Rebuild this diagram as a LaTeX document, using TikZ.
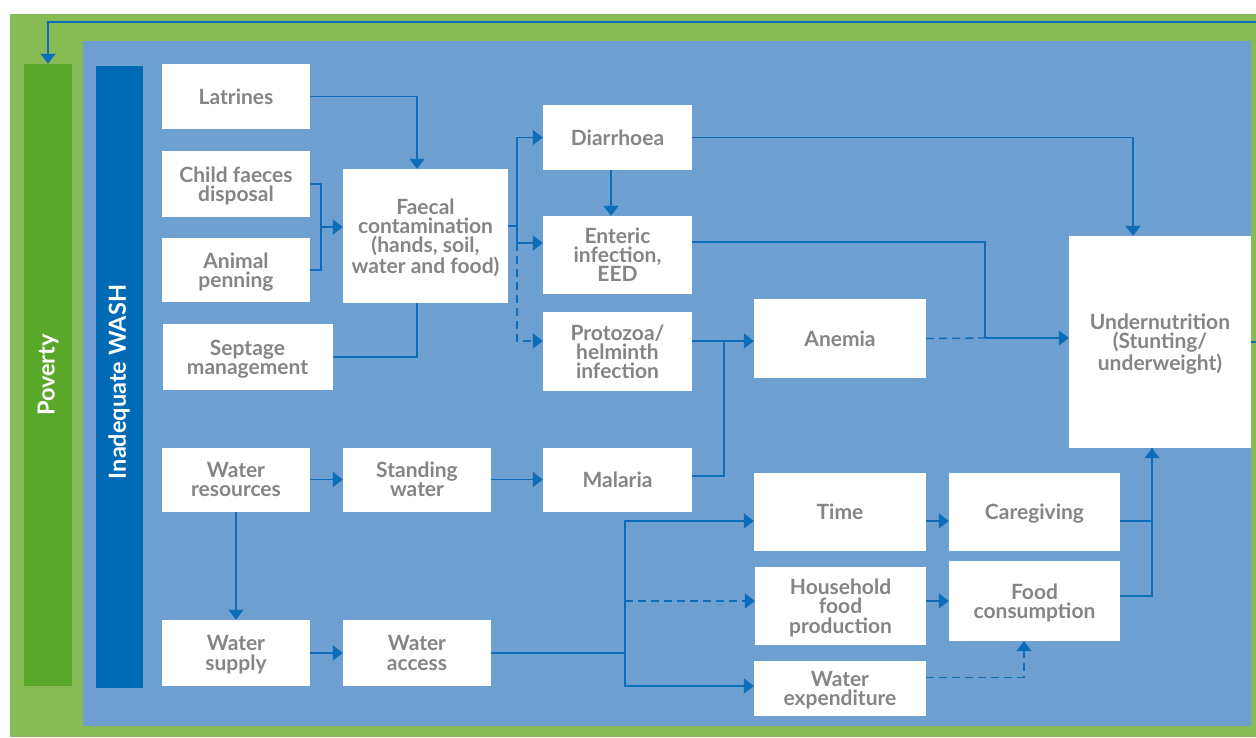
\documentclass[tikz,border=0pt]{standalone}
\usepackage{fontspec}
\setmainfont{Lato}
\usetikzlibrary{arrows.meta}

\definecolor{outergreen}{HTML}{86BB56}
\definecolor{povgreen}{HTML}{5AA829}
\definecolor{washblue}{HTML}{006AB4}
\definecolor{bgblue}{HTML}{6D9FD0}
\definecolor{linkblue}{HTML}{0D6DB8}
\definecolor{txtgray}{HTML}{858585}

\tikzset{
    box/.style={fill=white, text=txtgray, align=center, inner sep=0pt,
        minimum width=148pt, minimum height=65pt, text depth=0pt,
        font=\fontsize{21}{19.2}\selectfont\bfseries},
    bar/.style={inner sep=0pt, text=white,
        font=\fontsize{23.5}{24}\selectfont\bfseries},
    link/.style={draw=linkblue, line width=1.3pt},
    arr/.style={link, -{Triangle[length=10pt,width=15pt]}},
    dashlink/.style={link, dash pattern=on 8pt off 5pt},
    dasharr/.style={dashlink, -{Triangle[length=10pt,width=15pt]}},
}

\begin{document}
\begin{tikzpicture}[x=1pt, y=-1pt]
    \useasboundingbox (0,0) rectangle (1256,738);
    \fill[outergreen] (10,14) rectangle (1275,737);
    \fill[bgblue] (83,41) rectangle (1251,726);

    \node[bar, fill=povgreen, minimum width=48.5pt, minimum height=622pt] (poverty) at (48,375) {};
    \node[bar, rotate=90] at (poverty) {Poverty};
    \node[bar, fill=washblue, minimum width=47pt, minimum height=621pt] (wash) at (119,377) {};
    \node[bar, rotate=90] at ([yshift=-5pt]wash) {Inadequate WASH};

    % sanitation column
    \node[box] (latrines) at (236,96.5) {Latrines};
    \node[box, minimum height=66pt] (childfaeces) at (236,184) {Child faeces\\disposal};
    \node[box, minimum height=64pt] (animal) at (236,270) {Animal\\penning};
    \node[box, minimum width=170pt, minimum height=66pt] (septage) at (247.5,357) {Septage\\management};
    \node[box, minimum width=165pt, minimum height=134pt] (faecal) at (425.5,236) {Faecal\\contamination\\(hands, soil,\\water and food)};

    % infections
    \node[box, minimum width=149pt] (diarrhoea) at (617.5,137.5) {Diarrhoea};
    \node[box, minimum width=149pt, minimum height=78pt] (enteric) at (617.5,255) {Enteric\\infection,\\EED};
    \node[box, minimum width=149pt, minimum height=79pt] (protozoa) at (617.5,351.5) {Protozoa/\\helminth\\infection};
    \node[box, minimum width=172pt, minimum height=79pt] (anemia) at (840,338.5) {Anemia};
    \node[box, minimum width=182pt, minimum height=212pt] (under) at (1160,342) {Undernutrition\\(Stunting/\\underweight)};

    % water column
    \node[box, minimum height=64pt] (waterres) at (236,479.5) {Water\\resources};
    \node[box, minimum height=64pt] (standing) at (417,479.5) {Standing\\water};
    \node[box, minimum width=149pt, minimum height=64pt] (malaria) at (617.5,479.5) {Malaria};
    \node[box, minimum height=66pt] (watersupply) at (236,653) {Water\\supply};
    \node[box, minimum height=66pt] (wateraccess) at (417,653) {Water\\access};

    % household pathways
    \node[box, minimum width=172pt, minimum height=78pt] (time) at (840,512) {Time};
    \node[box, minimum width=171pt, minimum height=78pt] (caregiving) at (1034.5,512) {Caregiving};
    \node[box, minimum width=171pt, minimum height=78pt] (household) at (840.5,606) {Household\\food\\production};
    \node[box, minimum width=171pt, minimum height=80pt] (foodcons) at (1034.5,601) {Food\\consumption};
    \node[box, minimum width=172pt, minimum height=55pt] (waterexp) at (840,688.5) {Water\\expenditure};

    % junctions
    \coordinate (jcf) at (321,227);
    \coordinate (jfc) at (517,226);
    \coordinate (jen) at (985,338);
    \coordinate (jml) at (724,341);
    \coordinate (jwa) at (625,653);
    \coordinate (jhh) at (625,601);
    \coordinate (loop) at (1266,22);

    \draw[arr] (latrines.east) -| ([xshift=-8.5pt]faecal.north);
    \draw[link] (childfaeces.east) -| (jcf) |- (animal.east);
    \draw[arr] (jcf) -- (jcf -| faecal.west);
    \draw[link] (septage.east) -| ([xshift=-8.5pt]faecal.south);

    \draw[link] (faecal.east |- jfc) -- (jfc);
    \draw[arr] (jfc) |- (diarrhoea.west);
    \draw[arr] (jfc) |- ([yshift=12pt]enteric.west);
    \draw[dasharr] ([yshift=12pt]enteric.west -| jfc) |- ([yshift=10.5pt]protozoa.west);
    \draw[arr] ([xshift=-6.5pt]diarrhoea.south) -- ([xshift=-6.5pt]enteric.north);
    \draw[arr] (diarrhoea.east) -| ([xshift=-27pt]under.north);
    \draw[link] ([yshift=13pt]enteric.east) -| (jen);
    \draw[dashlink] (anemia.east) -- (jen);
    \draw[arr] (jen) -- (jen -| under.west);
    \draw[arr] ([yshift=10.5pt]protozoa.east) -- (jml) -- (jml -| anemia.west);
    \draw[link] ([yshift=3.5pt]malaria.east) -| (jml);

    \draw[arr] (waterres) -- (standing);
    \draw[arr] (standing) -- (malaria);
    \draw[arr] (waterres) -- (watersupply);
    \draw[arr] (watersupply) -- (wateraccess);
    \draw[link] (wateraccess.east) -- (jwa);
    \draw[arr] (jwa) |- ([yshift=-9pt]time.west);
    \draw[arr] (jwa) |- ([yshift=2.5pt]waterexp.west);
    \draw[dasharr] (jhh) -- (jhh -| household.west);
    \draw[arr] ([yshift=-9pt]time.east) -- ([yshift=-9pt]caregiving.west);
    \draw[arr] (household.east |- jhh) -- (foodcons.west |- jhh);
    \draw[dasharr] ([yshift=11pt]waterexp.east) -| ([xshift=-10.5pt]foodcons.south);
    \draw[link] ([yshift=-9pt]caregiving.east) -| ([xshift=-8pt]under.south);
    \draw[arr] ([yshift=5pt]foodcons.east) -| ([xshift=-8pt]under.south);

    % feedback to poverty
    \draw[arr] (under.east) -- (under.east -| loop) -- (loop) -| (poverty.north);
\end{tikzpicture}
\end{document}
